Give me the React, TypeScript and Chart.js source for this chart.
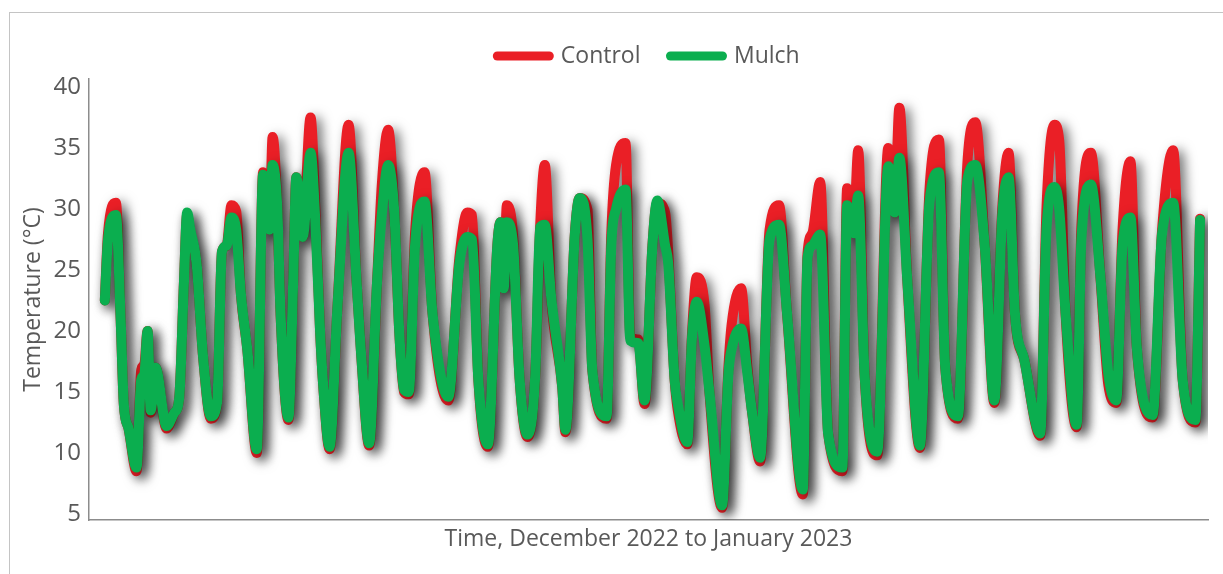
import { useEffect, useRef } from "react";
import { Chart, registerables } from "chart.js";

Chart.register(...registerables);

// Hours elapsed since the start of the logging window (x positions of readings)
const hours = [
  10, 12, 17, 20, 22, 25, 30, 33, 35, 37, 39, 42, 49, 54, 57, 60, 62, 64, 68, 72,
  77, 81, 84, 87, 90, 93, 96, 100, 106, 110, 114, 116, 119, 121, 126, 129, 131, 135, 140, 143,
  146, 148, 152, 157, 164, 169, 172, 177, 182, 185, 189, 193, 196, 199, 202, 206, 212, 217, 227, 234,
  239, 242, 246, 252, 258, 260, 262, 264, 268, 272, 277, 282, 285, 288, 292, 299, 301, 307, 310, 315,
  318, 327, 330, 333, 339, 342, 347, 351, 356, 359, 364, 366, 370, 372, 378, 381, 384, 389, 392, 400,
  404, 406, 412, 416, 419, 424, 430, 436, 441, 451, 454, 457, 462, 467, 476, 479, 483, 486, 490, 498,
  505, 509, 512, 517, 525, 531, 537, 541, 549, 555, 560, 566, 572, 577, 581, 585, 591, 601, 605, 610,
  613, 617, 624, 627, 633, 639, 644, 649, 653, 658, 662, 672, 678, 685, 691, 699, 702,
];

// Soil temperature, bare (control) plot, °C
const controlTemp = [
  22.5, 28.0, 30.5, 21.0, 14.0, 12.0, 8.5, 16.8, 17.3, 20.0, 13.3, 17.0, 12.0, 13.3, 14.5, 24.0, 29.5, 28.0, 25.5, 18.0,
  12.8, 14.2, 26.5, 27.0, 30.3, 29.8, 23.0, 18.5, 10.0, 33.0, 28.3, 35.9, 30.0, 21.5, 12.7, 24.0, 32.6, 27.7, 37.5, 30.0,
  20.0, 15.5, 10.3, 22.0, 36.9, 24.2, 18.0, 10.6, 24.0, 32.0, 36.5, 29.5, 20.0, 15.0, 14.8, 28.0, 33.0, 21.5, 14.3, 26.0,
  29.7, 29.5, 16.0, 10.5, 27.0, 28.9, 23.5, 30.3, 27.7, 16.2, 11.3, 16.5, 28.5, 33.6, 22.8, 15.4, 11.7, 28.0, 30.9, 29.9,
  16.8, 12.8, 28.0, 33.6, 35.4, 19.5, 19.3, 14.0, 27.0, 30.5, 29.7, 26.4, 16.0, 13.5, 10.7, 19.8, 24.4, 22.0, 15.0, 5.5,
  17.0, 20.5, 23.5, 17.0, 13.3, 9.3, 28.3, 30.3, 21.5, 6.6, 26.4, 28.0, 32.2, 11.6, 8.5, 31.7, 28.0, 34.8, 16.5, 9.8,
  35.0, 29.7, 38.3, 24.2, 10.4, 31.5, 35.7, 17.0, 12.8, 33.8, 37.1, 26.9, 14.1, 30.0, 34.6, 21.5, 17.6, 11.4, 30.2, 36.9,
  35.6, 21.5, 12.1, 28.5, 34.6, 24.5, 15.6, 14.1, 28.3, 33.9, 18.7, 12.9, 28.3, 34.8, 16.0, 12.5, 29.2,
];

// Soil temperature under mulch, °C
const mulchTemp = [
  22.5, 27.5, 29.5, 21.0, 14.0, 12.0, 8.8, 16.0, 16.5, 20.0, 13.5, 17.0, 12.2, 13.3, 14.5, 24.0, 29.7, 28.3, 25.5, 18.0,
  13.0, 14.2, 26.5, 27.0, 29.3, 28.3, 23.0, 18.5, 10.3, 32.8, 28.3, 33.6, 30.0, 21.5, 12.9, 24.0, 32.6, 27.7, 34.6, 29.0,
  20.0, 15.5, 10.5, 22.0, 34.6, 24.2, 18.0, 10.8, 24.0, 29.5, 33.6, 29.5, 20.0, 15.2, 15.0, 27.0, 30.6, 21.5, 14.6, 25.5,
  27.7, 27.5, 16.0, 10.7, 27.0, 28.9, 23.5, 28.9, 27.0, 16.2, 11.5, 16.5, 28.5, 28.7, 22.8, 15.4, 11.9, 28.0, 30.9, 27.4,
  16.8, 13.0, 27.0, 30.0, 31.6, 19.2, 19.0, 14.3, 27.0, 30.7, 27.0, 25.5, 16.0, 14.0, 10.9, 19.5, 22.4, 18.7, 15.0, 5.7,
  16.5, 18.5, 20.2, 16.5, 13.3, 9.6, 27.5, 28.7, 21.5, 7.0, 26.0, 27.0, 27.9, 11.6, 8.8, 30.3, 28.0, 31.1, 16.5, 10.1,
  33.5, 29.7, 34.2, 24.2, 10.6, 30.5, 33.0, 17.0, 13.0, 32.4, 33.6, 26.9, 14.3, 29.5, 32.6, 21.5, 17.6, 11.6, 28.5, 31.8,
  30.0, 21.5, 12.3, 27.5, 32.0, 24.5, 16.5, 14.3, 27.0, 29.3, 18.7, 13.1, 28.0, 30.5, 16.0, 12.7, 29.1,
];

const yTicks = [5, 10, 15, 20, 25, 30, 35, 40];

const TEXT_COLOR = "#595959";
const AXIS_COLOR = "#8c8c8c";
const FONT = "'Open Sans', 'Noto Sans', sans-serif";

export default function App() {
  const canvasRef = useRef<HTMLCanvasElement>(null);

  useEffect(() => {
    const canvas = canvasRef.current;
    if (!canvas) return;

    const toPoints = (vals: number[]) => hours.map((h, i) => ({ x: h, y: vals[i] }));

    // soft drop shadow under the thick temperature traces
    const lineShadow = {
      id: "lineShadow",
      beforeDatasetsDraw(chart: any) {
        const ctx = chart.ctx;
        ctx.save();
        ctx.shadowColor = "rgba(0,0,0,0.55)";
        ctx.shadowBlur = 12;
        ctx.shadowOffsetX = 5;
        ctx.shadowOffsetY = 4;
      },
      afterDatasetsDraw(chart: any) {
        chart.ctx.restore();
      },
    };

    // a little extra room between the legend and the plot
    const legendGap = {
      id: "legendGap",
      beforeInit(chart: any) {
        const legend = chart.legend;
        if (!legend) return;
        const fit = legend.fit;
        legend.fit = function () {
          fit.call(this);
          this.height += 1.5;
        };
      },
    };

    const traceStyle = {
      borderWidth: 10,
      borderJoinStyle: "round",
      borderCapStyle: "round",
      pointRadius: 0,
      cubicInterpolationMode: "monotone",
    };

    const chart = new Chart(canvas, {
      type: "line",
      data: {
        datasets: [
          {
            label: "Control",
            data: toPoints(controlTemp),
            borderColor: "#ea1f26",
            backgroundColor: "#ea1f26",
            order: 1,
            ...traceStyle,
          },
          {
            label: "Mulch",
            data: toPoints(mulchTemp),
            borderColor: "#0bae4f",
            backgroundColor: "#0bae4f",
            order: 0,
            ...traceStyle,
          },
        ],
      },
      options: {
        responsive: false,
        animation: false,
        events: [],
        layout: { padding: { left: 15.2, right: 15, top: 14.5, bottom: 17.2 } },
        plugins: {
          tooltip: { enabled: false },
          legend: {
            position: "top",
            fullSize: false,
            labels: {
              usePointStyle: true,
              pointStyle: "line",
              pointStyleWidth: 52,
              padding: 30,
              color: TEXT_COLOR,
              font: { family: FONT, size: 23 },
              sort: (a: any, b: any) => a.datasetIndex - b.datasetIndex,
              generateLabels: (c: any) =>
                Chart.defaults.plugins.legend.labels
                  .generateLabels(c)
                  .map((l: any) => ({ ...l, lineWidth: 9, lineCap: "round" })),
            },
          },
        },
        scales: {
          x: {
            type: "linear",
            min: 0,
            max: 707,
            ticks: { display: false },
            grid: { display: false, drawTicks: false },
            border: { display: true, color: AXIS_COLOR, width: 1.5 },
            afterFit: (s: any) => {
              s.height = 36.8;
            },
            title: {
              display: true,
              text: "Time, December 2022 to January 2023",
              color: TEXT_COLOR,
              font: { family: FONT, size: 23 },
              padding: { top: 4, bottom: 4 },
            },
          },
          y: {
            min: 4.5,
            max: 40.65,
            afterBuildTicks: (s: any) => {
              s.ticks = yTicks.map((v) => ({ value: v }));
            },
            afterFit: (s: any) => {
              s.width = 73.8;
            },
            grid: { display: false, drawTicks: false },
            border: { display: true, color: AXIS_COLOR, width: 1.5 },
            ticks: {
              padding: 8,
              color: TEXT_COLOR,
              font: { family: FONT, size: 24 },
            },
            title: {
              display: true,
              text: "Temperature (°C)",
              color: TEXT_COLOR,
              font: { family: FONT, size: 23 },
              padding: { top: 4, bottom: 4 },
            },
          },
        },
      },
      plugins: [lineShadow, legendGap],
    } as any);

    return () => chart.destroy();
  }, []);

  return (
    <div
      style={{
        position: "fixed",
        left: 0,
        top: 0,
        width: "100vw",
        height: "100vh",
        overflow: "hidden",
        background: "#ffffff",
      }}
    >
      <div
        style={{
          position: "absolute",
          left: 9,
          top: 12,
          width: 1400,
          height: 800,
          border: "1px solid #c4c4c4",
        }}
      />
      <canvas
        ref={canvasRef}
        width={1223}
        height={574}
        style={{ position: "absolute", left: 0, top: 0, display: "block" }}
      />
    </div>
  );
}
